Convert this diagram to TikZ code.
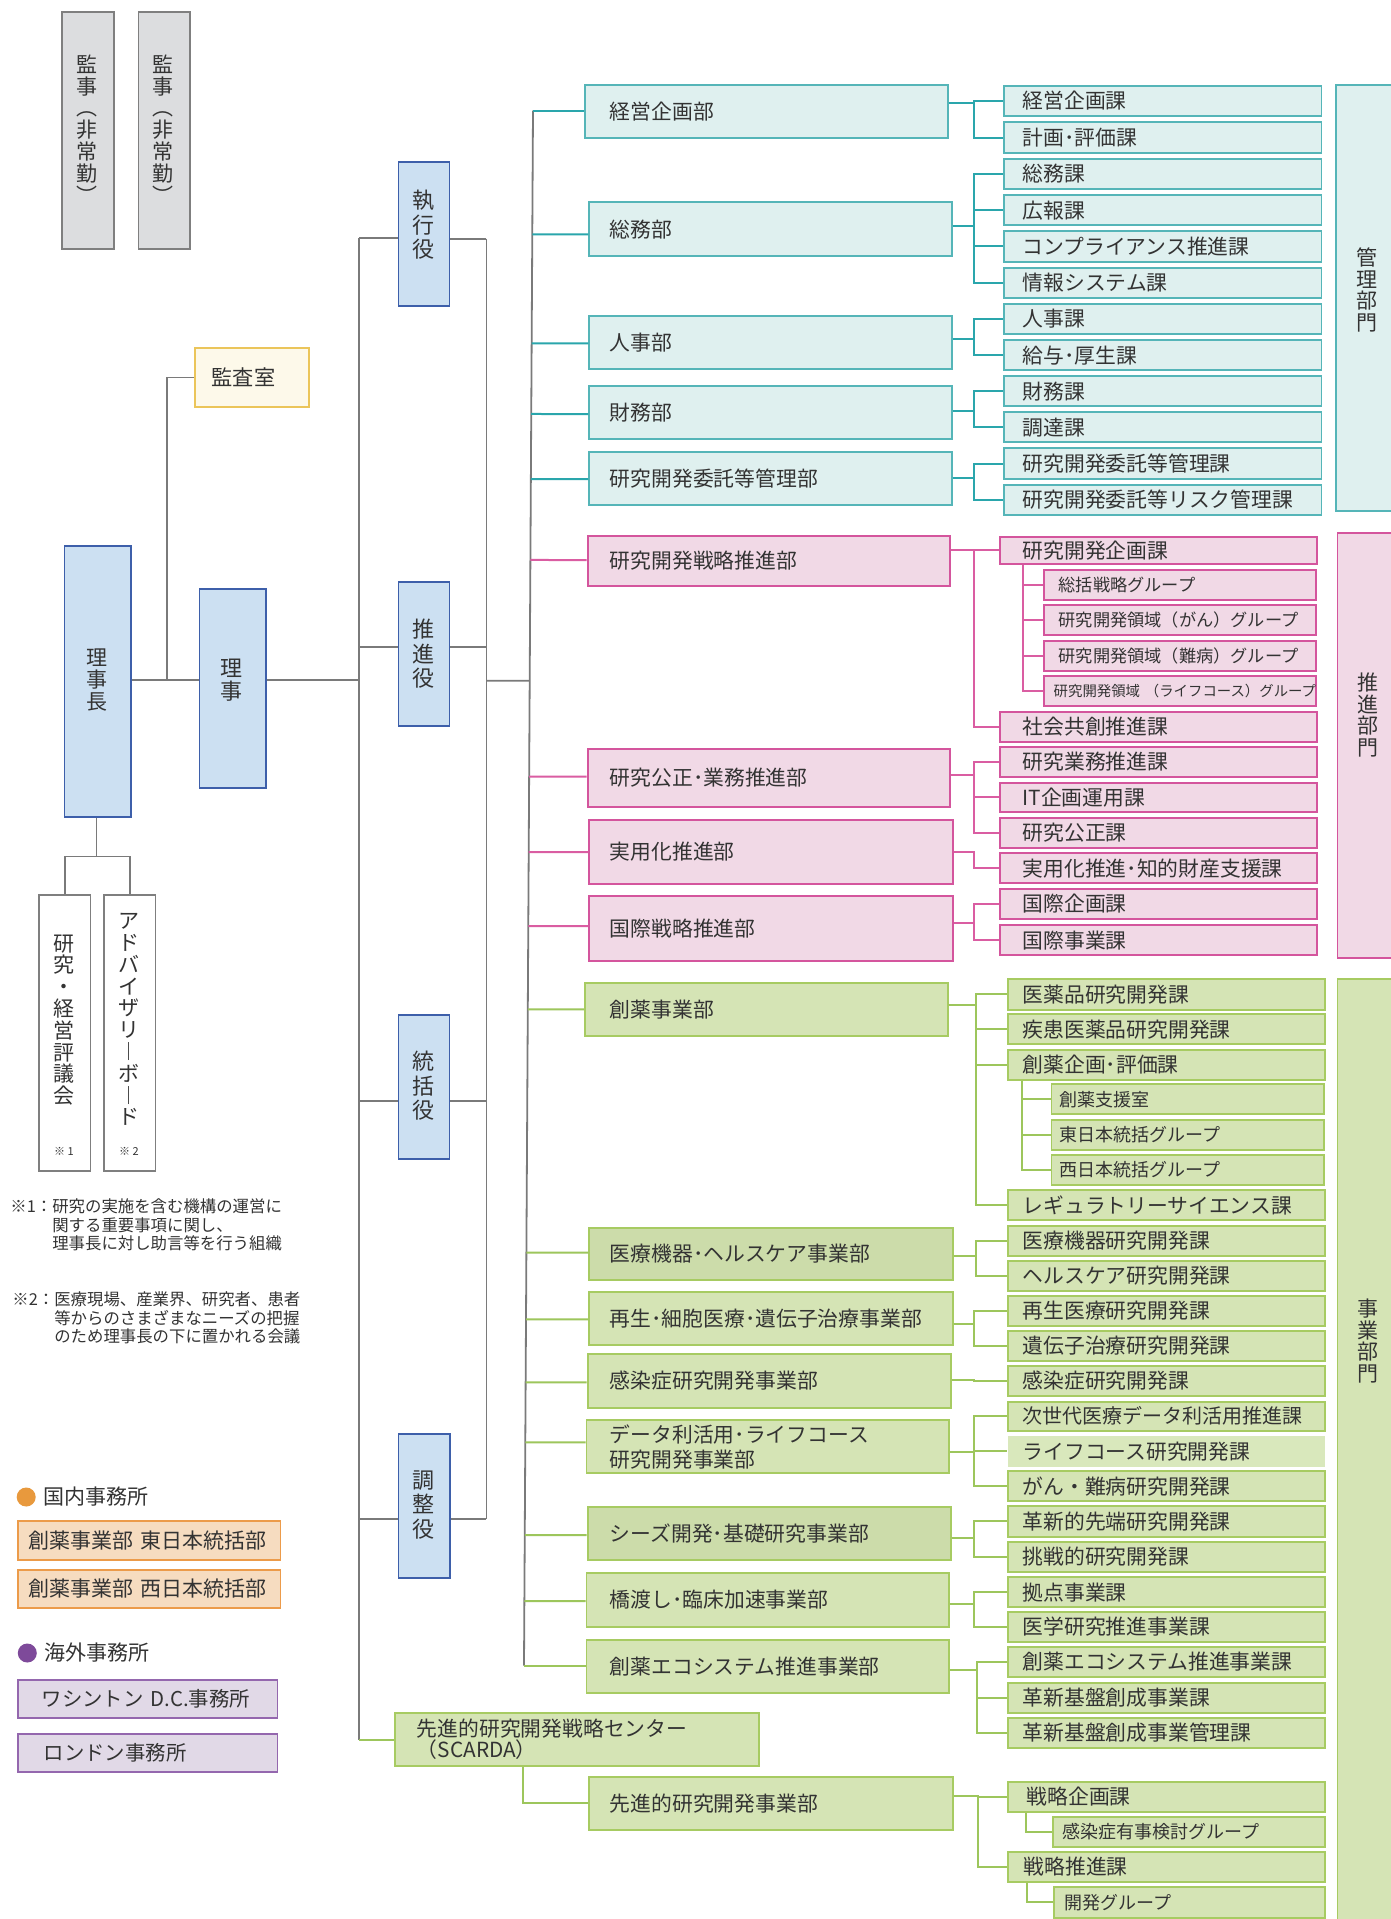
\documentclass[tikz,border=0pt]{standalone}
\usepackage{fontspec}
\setmainfont{Noto Sans CJK JP}
\usetikzlibrary{calc}
\definecolor{txt}{HTML}{333333}
\definecolor{lgray}{HTML}{7A7A7A}
\definecolor{grayfill}{HTML}{DCDDDF}
\definecolor{graybd}{HTML}{7F7F7F}
\definecolor{bluefill}{HTML}{CCE0F2}
\definecolor{bluebd}{HTML}{3D5FAA}
\definecolor{yelfill}{HTML}{FDF9EA}
\definecolor{yelbd}{HTML}{EBC55A}
\definecolor{tealfill}{HTML}{DFF0EF}
\definecolor{tealbd}{HTML}{55B5B8}
\definecolor{tealln}{HTML}{2AA6AC}
\definecolor{pinkfill}{HTML}{F1D9E6}
\definecolor{pinkbd}{HTML}{D4559D}
\definecolor{pinkln}{HTML}{DA5DA2}
\definecolor{grnfill}{HTML}{D5E4B5}
\definecolor{grndark}{HTML}{CCDCAA}
\definecolor{grnlight}{HTML}{D9E8BC}
\definecolor{grnbd}{HTML}{A7CB62}
\definecolor{grnln}{HTML}{9DC65C}
\definecolor{orfill}{HTML}{F6DCC0}
\definecolor{orbd}{HTML}{EC9B4A}
\definecolor{ordot}{HTML}{E8993D}
\definecolor{pufill}{HTML}{E1D9E7}
\definecolor{pubd}{HTML}{9467AE}
\definecolor{pudot}{HTML}{7E4A9A}
\newcommand\fs[1]{\fontsize{#1pt}{12.5pt}\selectfont}
\tikzset{
  bxbase/.style={line width=0.9pt, text=txt},
  graybx/.style={bxbase, draw=graybd, fill=grayfill},
  bluebx/.style={bxbase, draw=bluebd, fill=bluefill},
  whitebx/.style={bxbase, draw=graybd, fill=white},
  yelbx/.style={bxbase, draw=yelbd, fill=yelfill, font=\fs{10.6}},
  tdept/.style={bxbase, draw=tealbd, fill=tealfill, font=\fs{10.4}},
  pdept/.style={bxbase, draw=pinkbd, fill=pinkfill, font=\fs{10.4}},
  psub/.style={pdept, font=\fs{8.6}},
  gdept/.style={bxbase, draw=grnbd, fill=grnfill, font=\fs{10.4}},
  gdeptd/.style={gdept, fill=grndark},
  gsub/.style={gdept, font=\fs{9}},
  obx/.style={bxbase, draw=orbd, fill=orfill, font=\fs{10.5}},
  ubx/.style={bxbase, draw=pubd, fill=pufill, font=\fs{10.2}},
  vA/.style={align=center, text=txt, inner sep=0pt, font={\fontsize{10.5pt}{10.9pt}\selectfont\lineskiplimit=-20pt}},
  vB/.style={align=center, text=txt, inner sep=0pt, font={\fontsize{11pt}{12.3pt}\selectfont\lineskiplimit=-20pt}},
  vC/.style={align=center, text=txt, inner sep=0pt, font={\fontsize{11pt}{11.7pt}\selectfont\lineskiplimit=-20pt}},
  ln/.style={draw=lgray, line width=0.9pt},
  tl/.style={draw=tealln, line width=1pt},
  pl/.style={draw=pinkln, line width=1pt},
  gl/.style={draw=grnln, line width=1pt},
  plain/.style={text=txt, inner sep=0pt}
}
% box given by corners (pixel units), style, left inset, text
\newcommand\bx[8]{%
  \pgfmathsetmacro\bxw{((#4)-(#2))*0.5}%
  \pgfmathsetmacro\bxh{((#5)-(#3))*0.5}%
  \pgfmathsetmacro\bxt{((#4)-(#2)-2*(#7))*0.5}%
  \pgfmathsetmacro\bxi{(#7)*0.5}%
  \node[#6, anchor=north west, minimum width=\bxw pt, minimum height=\bxh pt,
        text width=\bxt pt, inner xsep=\bxi pt, inner ysep=0pt, align=left] (#1) at (#2,#3) {#8};%
}
% box with vertical text centred at given y
\newcommand\vbx[9]{%
  \bx{#1}{#2}{#3}{#4}{#5}{#6}{0}{}%
  \node[#8] (#1t) at ({((#2)+(#4))/2},#7) {#9};%
}
\newcommand\tb[3]{\draw[#1] ($(T1)!{((#3)-110.7)/1555}!(T2)$) -- (#2.west |- 0,#3);}
\newcommand\dbr[5]{\foreach \k in {#5}{\draw[#1] (#2.east |- 0,#3) -- (#4,#3) |- (\k.west);}}
\newcommand\sbr[4]{\foreach \k in {#4}{\draw[#1] (#2.south -| #3,0) |- (\k.west);}}

\begin{document}
\begin{tikzpicture}[x=0.5pt,y=-0.5pt]
\useasboundingbox (0,0) rectangle (1391,1919);
\clip (0,0) rectangle (1391,1919);
\fill[white] (0,0) rectangle (1391,1919);

\coordinate (T1) at (533,110.7);
\coordinate (T2) at (524,1665.7);
\coordinate (L1) at (359,238);
\coordinate (L2) at (359,1740);
\coordinate (R1) at (486.4,238.7);
\coordinate (R2) at (486.4,1519.3);
\coordinate (J) at (166.8,680);
\coordinate (RB) at (96.4,856.4);

% ---------- left column ----------
\vbx{kanji1}{61.4}{11.3}{112.9}{248}{graybx}{129}{vA}{監\\事\\︵\\非\\常\\勤\\︶}
\vbx{kanji2}{137.5}{11.3}{189}{248}{graybx}{129}{vA}{監\\事\\︵\\非\\常\\勤\\︶}
\bx{kansa}{194.3}{347}{308.2}{406}{yelbx}{16.4}{監査室}
\vbx{rijicho}{63.6}{545}{130}{816.3}{bluebx}{680}{vA}{理\\事\\長}
\vbx{riji}{198.6}{588.3}{265}{787.3}{bluebx}{680}{vC}{理\\事}
\vbx{shikko}{397.5}{160.7}{448.6}{304.7}{bluebx}{225}{vB}{執\\行\\役}
\vbx{suishin}{397.5}{581.3}{448.6}{725.3}{bluebx}{654}{vB}{推\\進\\役}
\vbx{tokatsu}{397.5}{1014.3}{448.6}{1157.9}{bluebx}{1086}{vB}{統\\括\\役}
\vbx{chosei}{397.5}{1432.7}{449}{1576.7}{bluebx}{1505}{vB}{調\\整\\役}
\vbx{hyogi}{38.2}{894.3}{89.6}{1170.4}{whitebx}{1020}{vA}{研\\究\\・\\経\\営\\評\\議\\会}
\vbx{advisory}{103.2}{894.3}{154.6}{1170.4}{whitebx}{1019.6}{vA}{ア\\ド\\バ\\イ\\ザ\\リ\\︱\\ボ\\︱\\ド}
\node[plain, font=\fontsize{5.5pt}{6pt}\selectfont] (m1) at (63.9,1151.8) {※ 1};
\node[plain, font=\fontsize{5.5pt}{6pt}\selectfont] (m2) at (128.9,1151.8) {※ 2};

\draw[ln] (rijicho.east |- J) -- (riji.west |- J);
\draw[ln] (J) |- (kansa.west);
\draw[ln] (riji.east |- J) -- (L1 |- J);
\draw[ln] (rijicho.south -| RB) -- (RB);
\draw[ln] (hyogi.north) |- (RB) -| (advisory.north);

\draw[ln] (L1) -- (L2);
\draw[ln] (R1) -- (R2);
\draw[ln] (L1) -- (shikko.west |- L1);
\draw[ln] (shikko.east |- R1) -- (R1);
\draw[ln] (L1 |- 0,646.7) -- (suishin.west |- 0,646.7);
\draw[ln] (suishin.east |- 0,646.7) -- (R1 |- 0,646.7);
\draw[ln] (L1 |- 0,1101) -- (tokatsu.west |- 0,1101);
\draw[ln] (tokatsu.east |- 0,1101) -- (R1 |- 0,1101);
\draw[ln] (L1 |- R2) -- (chosei.west |- R2);
\draw[ln] (chosei.east |- R2) -- (R2);
\draw[ln] (R1 |- 0,680.7) -- ($(T1)!{(680.7-110.7)/1555}!(T2)$);
\draw[ln] (T1) -- (T2);

% notes
\node[plain, anchor=west, align=left, font=\fontsize{8.2pt}{9.3pt}\selectfont] (note1) at (10,1225)
  {※1：研究の実施を含む機構の運営に\\\phantom{※1：}関する重要事項に関し、\\\phantom{※1：}理事長に対し助言等を行う組織};
\node[plain, anchor=west, align=left, font=\fontsize{8.2pt}{9.3pt}\selectfont] (note2) at (12,1318)
  {※2：医療現場、産業界、研究者、患者\\\phantom{※2：}等からのさまざまなニーズの把握\\\phantom{※2：}のため理事長の下に置かれる会議};

% legend
\node[circle, fill=ordot, minimum size=9.5pt, inner sep=0pt] (dot1) at (26.2,1497) {};
\node[plain, anchor=west, font=\fs{10.5}] (kokunai) at (43,1497) {国内事務所};
\bx{east}{16.8}{1520}{279.6}{1558.7}{obx}{11.2}{創薬事業部~東日本統括部}
\bx{west}{16.8}{1568.7}{279.6}{1607.3}{obx}{11.2}{創薬事業部~西日本統括部}
\node[circle, fill=pudot, minimum size=9.5pt, inner sep=0pt] (dot2) at (27.3,1653) {};
\node[plain, anchor=west, font=\fs{10.5}] (kaigai) at (44,1653) {海外事務所};
\bx{dc}{16.8}{1678.7}{276.5}{1717.3}{ubx}{24}{\mbox{ワシントン~D.C.事務所}}
\bx{london}{16.8}{1732.7}{276.5}{1771.3}{ubx}{26}{ロンドン事務所}

% ---------- teal: 管理部門 ----------
\bx{tk1}{583.9}{84}{946.7}{137.3}{tdept}{25}{経営企画部}
\bx{tk2}{588.3}{201.3}{951}{255.3}{tdept}{20.7}{総務部}
\bx{tk3}{588.3}{315.3}{951}{368.3}{tdept}{20.7}{人事部}
\bx{tk4}{588.3}{385.3}{951}{438.3}{tdept}{20.7}{財務部}
\bx{tk5}{588.3}{451.3}{951}{504.3}{tdept}{20.7}{研究開発委託等管理部}
\bx{ta1}{1003.3}{84.7}{1320.6}{115.3}{tdept}{18.4}{経営企画課}
\bx{ta2}{1003.3}{121.3}{1320.6}{152}{tdept}{18.4}{計画･評価課}
\bx{ta3}{1003.3}{158}{1320.6}{188.3}{tdept}{18.4}{総務課}
\bx{ta4}{1003.3}{194.3}{1320.6}{224.3}{tdept}{18.4}{広報課}
\bx{ta5}{1003.3}{230.3}{1320.6}{260.7}{tdept}{18.4}{コンプライアンス推進課}
\bx{ta6}{1003.3}{266.7}{1320.6}{297}{tdept}{18.4}{情報システム課}
\bx{ta7}{1003.3}{303}{1320.6}{333.3}{tdept}{18.4}{人事課}
\bx{ta8}{1003.3}{339.3}{1320.6}{369.3}{tdept}{18.4}{給与･厚生課}
\bx{ta9}{1003.3}{375.3}{1320.6}{405.3}{tdept}{18.4}{財務課}
\bx{ta10}{1003.3}{411.3}{1320.6}{441.3}{tdept}{18.4}{調達課}
\bx{ta11}{1003.3}{447.3}{1320.6}{478}{tdept}{18.4}{研究開発委託等管理課}
\bx{ta12}{1003.3}{483.7}{1320.6}{514}{tdept}{18.4}{研究開発委託等リスク管理課}
\vbx{div1}{1334.7}{84}{1400}{510.3}{tdept}{290}{vA}{管\\理\\部\\門}

\tb{tl}{tk1}{110.7}
\tb{tl}{tk2}{234.3}
\tb{tl}{tk3}{343.3}
\tb{tl}{tk4}{414}
\tb{tl}{tk5}{479}
\dbr{tl}{tk1}{103.3}{973.9}{ta1,ta2}
\dbr{tl}{tk2}{225.7}{973.9}{ta3,ta4,ta5,ta6}
\dbr{tl}{tk3}{338.7}{973.9}{ta7,ta8}
\dbr{tl}{tk4}{410.7}{973.9}{ta9,ta10}
\dbr{tl}{tk5}{478.3}{973.9}{ta11,ta12}

% ---------- pink: 推進部門 ----------
\bx{pk1}{586.7}{535}{949.4}{585}{pdept}{22.3}{研究開発戦略推進部}
\bx{pk2}{586.7}{748.3}{949.4}{805.7}{pdept}{22.3}{研究公正･業務推進部}
\bx{pk3}{588.3}{819}{951.7}{883.3}{pdept}{20.7}{実用化推進部}
\bx{pk4}{588.3}{895}{951.7}{960}{pdept}{20.7}{国際戦略推進部}
\bx{pa1}{998.9}{535.7}{1316}{563.3}{pdept}{22.8}{研究開発企画課}
\bx{ps1}{1042.8}{568.7}{1315}{599}{psub}{15}{総括戦略グループ}
\bx{ps2}{1042.8}{604.3}{1315}{634.3}{psub}{15}{研究開発領域（がん）グループ}
\bx{ps3}{1042.8}{639.7}{1315}{670}{psub}{15}{研究開発領域（難病）グループ}
\bx{ps4}{1042.8}{675}{1315}{705.3}{pdept, font=\fs{7.2}}{10}{\mbox{研究開発領域~（ライフコース）グループ}}
\bx{pa2}{998.9}{710.7}{1316}{740.7}{pdept}{22.8}{社会共創推進課}
\bx{pa3}{998.9}{746}{1316}{776}{pdept}{22.8}{研究業務推進課}
\bx{pa4}{998.9}{781.7}{1316}{811.3}{pdept}{22.8}{IT企画運用課}
\bx{pa5}{998.9}{816.7}{1316}{846.7}{pdept}{22.8}{研究公正課}
\bx{pa6}{998.9}{852.3}{1316}{882.3}{pdept}{22.8}{実用化推進･知的財産支援課}
\bx{pa7}{998.9}{887.7}{1316}{917.7}{pdept}{22.8}{国際企画課}
\bx{pa8}{998.9}{924.3}{1316}{954.3}{pdept}{22.8}{国際事業課}
\vbx{div2}{1336.5}{531.7}{1400}{957}{pdept}{715}{vA}{推\\進\\部\\門}

\tb{pl}{pk1}{560}
\tb{pl}{pk2}{776.7}
\tb{pl}{pk3}{852}
\tb{pl}{pk4}{926}
\dbr{pl}{pk1}{550}{973.9}{pa1,pa2}
\sbr{pl}{pa1}{1022.8}{ps1,ps2,ps3,ps4}
\dbr{pl}{pk2}{775.3}{973.9}{pa3,pa4,pa5}
\dbr{pl}{pk3}{852}{973.9}{pa6}
\dbr{pl}{pk4}{923.3}{973.9}{pa7,pa8}

% ---------- green: 事業部門 ----------
\bx{gk1}{583.9}{981.7}{946.7}{1034.7}{gdept}{25}{創薬事業部}
\bx{gk2}{588.3}{1226.7}{951.7}{1279.3}{gdeptd}{20.7}{医療機器･ヘルスケア事業部}
\bx{gk3}{588.3}{1291.3}{951.7}{1344.3}{gdept}{20.7}{再生･細胞医療･遺伝子治療事業部}
\bx{gk4}{586.7}{1353.3}{950}{1406.7}{gdept}{22.3}{感染症研究開発事業部}
\bx{gk5}{585.6}{1419.3}{948.3}{1472.3}{gdept}{23.4}{データ利活用･ライフコース\\研究開発事業部}
\bx{gk6}{586.7}{1506}{950}{1559.3}{gdeptd}{22.3}{シーズ開発･基礎研究事業部}
\bx{gk7}{585.6}{1572.3}{948.3}{1625.7}{gdept}{23.4}{橋渡し･臨床加速事業部}
\bx{gk8}{585.6}{1639.3}{948.3}{1692.3}{gdept}{23.4}{創薬エコシステム推進事業部}
\bx{scarda}{394.4}{1711.7}{757.8}{1765}{gdept, font={\fontsize{10.4pt}{10.5pt}\selectfont\lineskiplimit=-20pt}}{21.6}{先進的研究開発戦略センター\\（SCARDA）}
\bx{gk9}{587.8}{1775.7}{951.7}{1829}{gdept}{21.2}{先進的研究開発事業部}

\bx{ga1}{1006.7}{978.3}{1324.4}{1008.7}{gdept}{15}{医薬品研究開発課}
\bx{ga2}{1006.7}{1013.3}{1324.4}{1043.3}{gdept}{15}{疾患医薬品研究開発課}
\bx{ga3}{1006.7}{1048.7}{1324.4}{1079}{gdept}{15}{創薬企画･評価課}
\bx{gs1}{1050.6}{1083.3}{1322.8}{1113.3}{gsub}{8}{創薬支援室}
\bx{gs2}{1050.6}{1118.7}{1322.8}{1149}{gsub}{8}{東日本統括グループ}
\bx{gs3}{1050.6}{1154}{1322.8}{1184}{gsub}{8}{西日本統括グループ}
\bx{ga4}{1006.7}{1189}{1324.4}{1219.3}{gdept}{15}{レギュラトリーサイエンス課}
\bx{ga5}{1006.7}{1224.7}{1324.4}{1255}{gdept}{15}{医療機器研究開発課}
\bx{ga6}{1006.7}{1259.7}{1324.4}{1290}{gdept}{15}{ヘルスケア研究開発課}
\bx{ga7}{1006.7}{1295}{1324.4}{1325.3}{gdept}{15}{再生医療研究開発課}
\bx{ga8}{1006.7}{1329.7}{1324.4}{1360}{gdept}{15}{遺伝子治療研究開発課}
\bx{ga9}{1006.7}{1365}{1324.4}{1395.3}{gdept}{15}{感染症研究開発課}
\bx{ga10}{1006.7}{1400.7}{1324.4}{1430}{gdept, font=\fs{10}}{15}{次世代医療データ利活用推進課}
\bx{ga11}{1006.7}{1435.3}{1324.4}{1465.7}{gdept, draw=none, fill=grnlight}{15}{ライフコース研究開発課}
\bx{ga12}{1006.7}{1470.3}{1324.4}{1500.3}{gdept}{15}{がん・難病研究開発課}
\bx{ga13}{1006.7}{1505.3}{1324.4}{1535.7}{gdept}{15}{革新的先端研究開発課}
\bx{ga14}{1006.7}{1541}{1324.4}{1571}{gdept}{15}{挑戦的研究開発課}
\bx{ga15}{1006.7}{1576.3}{1324.4}{1606.3}{gdept}{15}{拠点事業課}
\bx{ga16}{1006.7}{1611}{1324.4}{1641}{gdept}{15}{医学研究推進事業課}
\bx{ga17}{1006.7}{1646}{1324.4}{1676.3}{gdept}{15}{創薬エコシステム推進事業課}
\bx{ga18}{1006.7}{1681.7}{1324.4}{1711.7}{gdept}{15}{革新基盤創成事業課}
\bx{ga19}{1006.7}{1716.7}{1324.4}{1747}{gdept}{15}{革新基盤創成事業管理課}
\bx{ga20}{1006.7}{1780.7}{1324.4}{1810.7}{gdept}{19}{戦略企画課}
\bx{gs4}{1052.2}{1815.7}{1324.4}{1846}{gsub}{9.5}{感染症有事検討グループ}
\bx{ga21}{1006.7}{1850.7}{1324.4}{1881}{gdept}{16}{戦略推進課}
\bx{gs5}{1053.3}{1886.3}{1324.4}{1916.7}{gsub}{10.7}{開発グループ}
\vbx{div3}{1336.5}{978.3}{1400}{1930}{gdept}{1341}{vA}{事\\業\\部\\門}

\tb{gl}{gk1}{1009.3}
\tb{gl}{gk2}{1252.7}
\tb{gl}{gk3}{1319.3}
\tb{gl}{gk4}{1382.3}
\tb{gl}{gk5}{1442.3}
\tb{gl}{gk6}{1535}
\tb{gl}{gk7}{1601}
\tb{gl}{gk8}{1665.7}
\dbr{gl}{gk1}{1005.3}{976.1}{ga1,ga2,ga3,ga4}
\sbr{gl}{ga3}{1021.7}{gs1,gs2,gs3}
\dbr{gl}{gk2}{1255.7}{976.1}{ga5,ga6}
\dbr{gl}{gk3}{1324}{973.9}{ga7,ga8}
\dbr{gl}{gk4}{1380}{973.9}{ga9}
\dbr{gl}{gk5}{1452.3}{973.9}{ga10,ga11,ga12}
\dbr{gl}{gk6}{1538.3}{973.9}{ga13,ga14}
\dbr{gl}{gk7}{1604}{973.9}{ga15,ga16}
\dbr{gl}{gk8}{1670}{977.2}{ga17,ga18,ga19}
\dbr{gl}{gk9}{1795.7}{978.3}{ga20,ga21}
\sbr{gl}{ga20}{1026}{gs4}
\sbr{gl}{ga21}{1027.2}{gs5}
\draw[gl] (L2) -- (scarda.west |- L2);
\draw[gl] (scarda.south -| 523,0) |- (gk9.west);
\end{tikzpicture}
\end{document}
